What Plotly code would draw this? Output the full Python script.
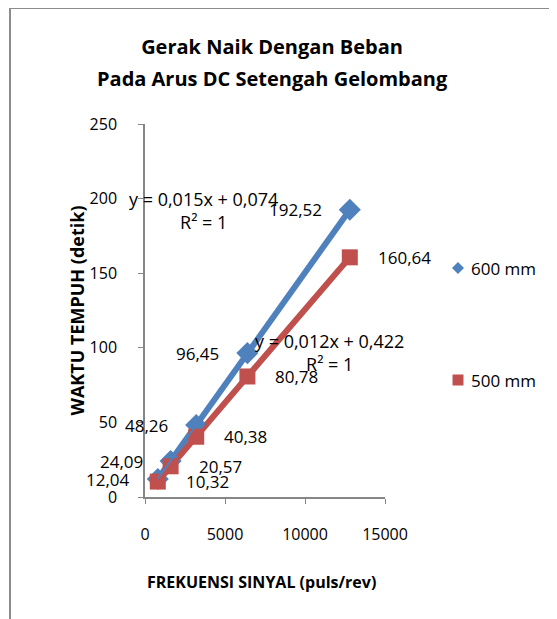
import numpy as np
import plotly.graph_objects as go

# ---- data ----
frekuensi = [800, 1600, 3200, 6400, 12800]
waktu_600 = [12.04, 24.09, 48.26, 96.45, 192.52]
waktu_500 = [10.32, 20.57, 40.38, 80.78, 160.64]
label_600 = ["12,04", "24,09", "48,26", "96,45", "192,52"]
label_500 = ["10,32", "20,57", "40,38", "80,78", "160,64"]
series_names = ["600 mm", "500 mm"]
eq_600 = "y = 0,015x + 0,074<br>R² = 1"
eq_500 = "y = 0,012x + 0,422<br>R² = 1"
title_lines = ["Gerak Naik Dengan Beban", "Pada Arus DC Setengah Gelombang"]
x_title = "FREKUENSI SINYAL (puls/rev)"
y_title = "WAKTU TEMPUH (detik)"
x_ticks = [0, 5000, 10000, 15000]
x_tick_text = ["0", "5000", "10000", "15000"]
y_ticks = [0, 50, 100, 150, 200, 250]

BLUE = "#4F81BD"
RED = "#C0504D"
FONT = "Open Sans"

# page offset (body margin) and plot area in page pixels
OFF = 8
L, R, T, B = 145 - OFF, 385 - OFF, 124 - OFF, 497 - OFF
W, H = R - L, B - T


def px(x):
    return (x - OFF - L) / W


def py(y):
    return (B - (y - OFF)) / H


fig = go.Figure()

# thick connecting lines
fig.add_trace(go.Scatter(x=frekuensi, y=waktu_600, mode="lines",
                         line=dict(color=BLUE, width=6), showlegend=False,
                         hoverinfo="skip"))
fig.add_trace(go.Scatter(x=frekuensi, y=waktu_500, mode="lines",
                         line=dict(color=RED, width=6), showlegend=False,
                         hoverinfo="skip"))
# markers
fig.add_trace(go.Scatter(x=frekuensi, y=waktu_600, mode="markers", name=series_names[0],
                         marker=dict(symbol="diamond", size=17, color=BLUE),
                         showlegend=False))
fig.add_trace(go.Scatter(x=frekuensi, y=waktu_500, mode="markers", name=series_names[1],
                         marker=dict(symbol="square", size=16, color=RED),
                         showlegend=False))

# linear trendlines fitted from the data
for ys, col in [(waktu_600, BLUE), (waktu_500, RED)]:
    m, c = np.polyfit(frekuensi, ys, 1)
    xs = [min(frekuensi), max(frekuensi)]
    fig.add_trace(go.Scatter(x=xs, y=[m * v + c for v in xs], mode="lines",
                             line=dict(color=col, width=2), showlegend=False,
                             hoverinfo="skip"))

LF = dict(size=17, color="black", family=FONT)
EF = dict(size=18, color="black", family=FONT)
annotations = []
for xv, yv, t in zip(frekuensi, waktu_600, label_600):
    annotations.append(dict(x=xv, y=yv, text=t, showarrow=False, xanchor="right",
                            xshift=-26, font=LF))
for xv, yv, t in zip(frekuensi, waktu_500, label_500):
    annotations.append(dict(x=xv, y=yv, text=t, showarrow=False, xanchor="left",
                            xshift=26, font=LF))
annotations.append(dict(x=3625, y=192, text=eq_600, showarrow=False, align="center", font=EF))
annotations.append(dict(x=11560, y=97, text=eq_500, showarrow=False, align="center", font=EF))
# second title line
annotations.append(dict(xref="paper", yref="paper", x=px(272), y=py(79),
                        xanchor="center", yanchor="middle", showarrow=False,
                        text=f"<b>{title_lines[1]}</b>",
                        font=dict(size=20, color="black", family=FONT)))
# x axis title
annotations.append(dict(xref="paper", yref="paper", x=px(261), y=py(582),
                        xanchor="center", yanchor="middle",
                        text=f"<b>{x_title}</b>", showarrow=False,
                        font=dict(size=16, color="black", family=FONT)))

# manual legend (symbol + text)
legend_items = [(series_names[0], 268, BLUE, "diamond"), (series_names[1], 380, RED, "square")]
shapes = [
    dict(type="line", xref="paper", yref="paper", x0=px(10), x1=px(10),
         y0=py(660), y1=py(8), line=dict(color="#8c8c8c", width=2)),
    dict(type="line", xref="paper", yref="paper", x0=px(10), x1=px(600),
         y0=py(8), y1=py(8), line=dict(color="#8c8c8c", width=2)),
]
for name, yc, col, sym in legend_items:
    cx = 458
    if sym == "diamond":
        h = 6
        path = (f"M {px(cx)} {py(yc - h)} L {px(cx + h)} {py(yc)} "
                f"L {px(cx)} {py(yc + h)} L {px(cx - h)} {py(yc)} Z")
        shapes.append(dict(type="path", xref="paper", yref="paper", path=path,
                           fillcolor=col, line=dict(width=0)))
    else:
        h = 5.5
        shapes.append(dict(type="rect", xref="paper", yref="paper",
                           x0=px(cx - h), x1=px(cx + h), y0=py(yc + h), y1=py(yc - h),
                           fillcolor=col, line=dict(width=0)))
    annotations.append(dict(xref="paper", yref="paper", x=px(469), y=py(yc),
                            xanchor="left", yanchor="middle", text=name, showarrow=False,
                            font=LF))

fig.update_layout(
    width=557, height=619,
    margin=dict(l=L, r=557 - R, t=T, b=619 - B, autoexpand=False),
    paper_bgcolor="white", plot_bgcolor="white",
    font=dict(family=FONT, size=16, color="black"),
    title=dict(text=f"<b>{title_lines[0]}</b>",
               x=(272 - OFF) / 557, xanchor="center", y=1 - (47 - OFF) / 619,
               yanchor="middle",
               font=dict(size=20, family=FONT, color="black")),
    xaxis=dict(range=[0, 15000], tickvals=x_ticks, ticktext=x_tick_text, showgrid=False,
               zeroline=False, automargin=False,
               showline=True, linecolor="#868686", linewidth=1.5, ticks="outside",
               ticklen=5, tickcolor="#868686", ticklabelstandoff=17,
               tickfont=dict(size=16, family=FONT)),
    yaxis=dict(range=[0, 250], tickvals=y_ticks, showgrid=False, zeroline=False,
               automargin=False,
               title=dict(text=f"<b>{y_title}</b>", standoff=0,
                          font=dict(size=18, color="black", family=FONT)),
               showline=True, linecolor="#868686", linewidth=1.5, ticks="outside",
               ticklen=5, tickcolor="#868686", ticklabelstandoff=18,
               tickfont=dict(size=16, family=FONT)),
    annotations=annotations,
    shapes=shapes,
    showlegend=False,
)

fig.write_html("out.html")
